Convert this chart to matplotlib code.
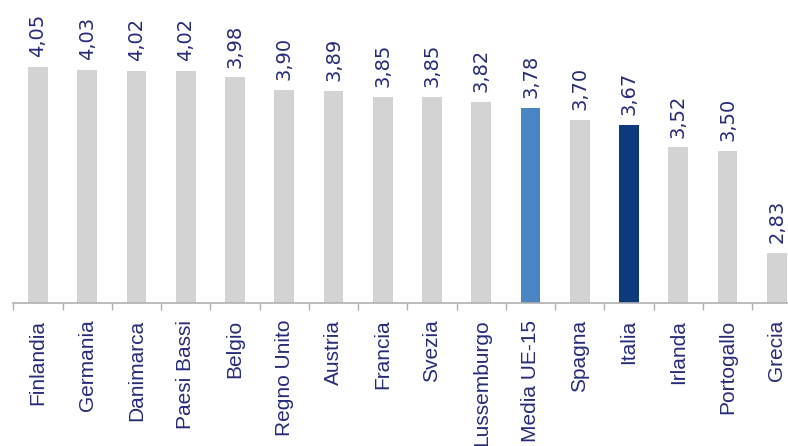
import numpy as np
from matplotlib import pyplot as plt

# === Data ===
paesi = ["Finlandia", "Germania", "Danimarca", "Paesi Bassi", "Belgio",
         "Regno Unito", "Austria", "Francia", "Svezia", "Lussemburgo",
         "Media UE-15", "Spagna", "Italia", "Irlanda", "Portogallo", "Grecia"]
valori = [4.05, 4.03, 4.02, 4.02, 3.98, 3.90, 3.89, 3.85, 3.85, 3.82,
          3.78, 3.70, 3.67, 3.52, 3.50, 2.83]
evidenziati = {"Media UE-15": "#4a86c6", "Italia": "#0c3a7d"}

# === Style ===
grigio = "#d3d3d3"
testo = "#262a78"
colori = [evidenziati.get(p, grigio) for p in paesi]

fig = plt.figure(figsize=(7.88, 4.46), dpi=100)
ax = fig.add_axes([13.4 / 788, 1 - 303 / 446, 1.0, 303 / 446])

x = np.arange(len(paesi))
ax.bar(x, valori, width=0.4, color=colori, zorder=2)

ax.set_xlim(-0.5, len(paesi) - 0.5)
ax.set_ylim(2.5, 2.5 + 303 / 152.5)

for xi, v in zip(x, valori):
    ax.annotate(f"{v:.2f}".replace(".", ","), (xi, v), xytext=(0, 7),
                textcoords="offset points", rotation=90, ha="center", va="bottom",
                fontsize=14, color=testo, family="DejaVu Sans")

for s in ["top", "right", "left"]:
    ax.spines[s].set_visible(False)
ax.spines["bottom"].set_color("#b0b0b0")
ax.spines["bottom"].set_linewidth(1.2)
ax.set_yticks([])

ax.set_xticks(x)
ax.set_xticklabels(paesi, rotation=90, fontsize=15, color=testo,
                   family="Liberation Sans", va="top")
ax.tick_params(axis="x", which="major", length=0, pad=12)
ax.set_xticks(np.arange(-0.5, len(paesi), 1), minor=True)
ax.tick_params(axis="x", which="minor", length=5, color="#b0b0b0", width=1)

fig.savefig("out.png", dpi=100)
